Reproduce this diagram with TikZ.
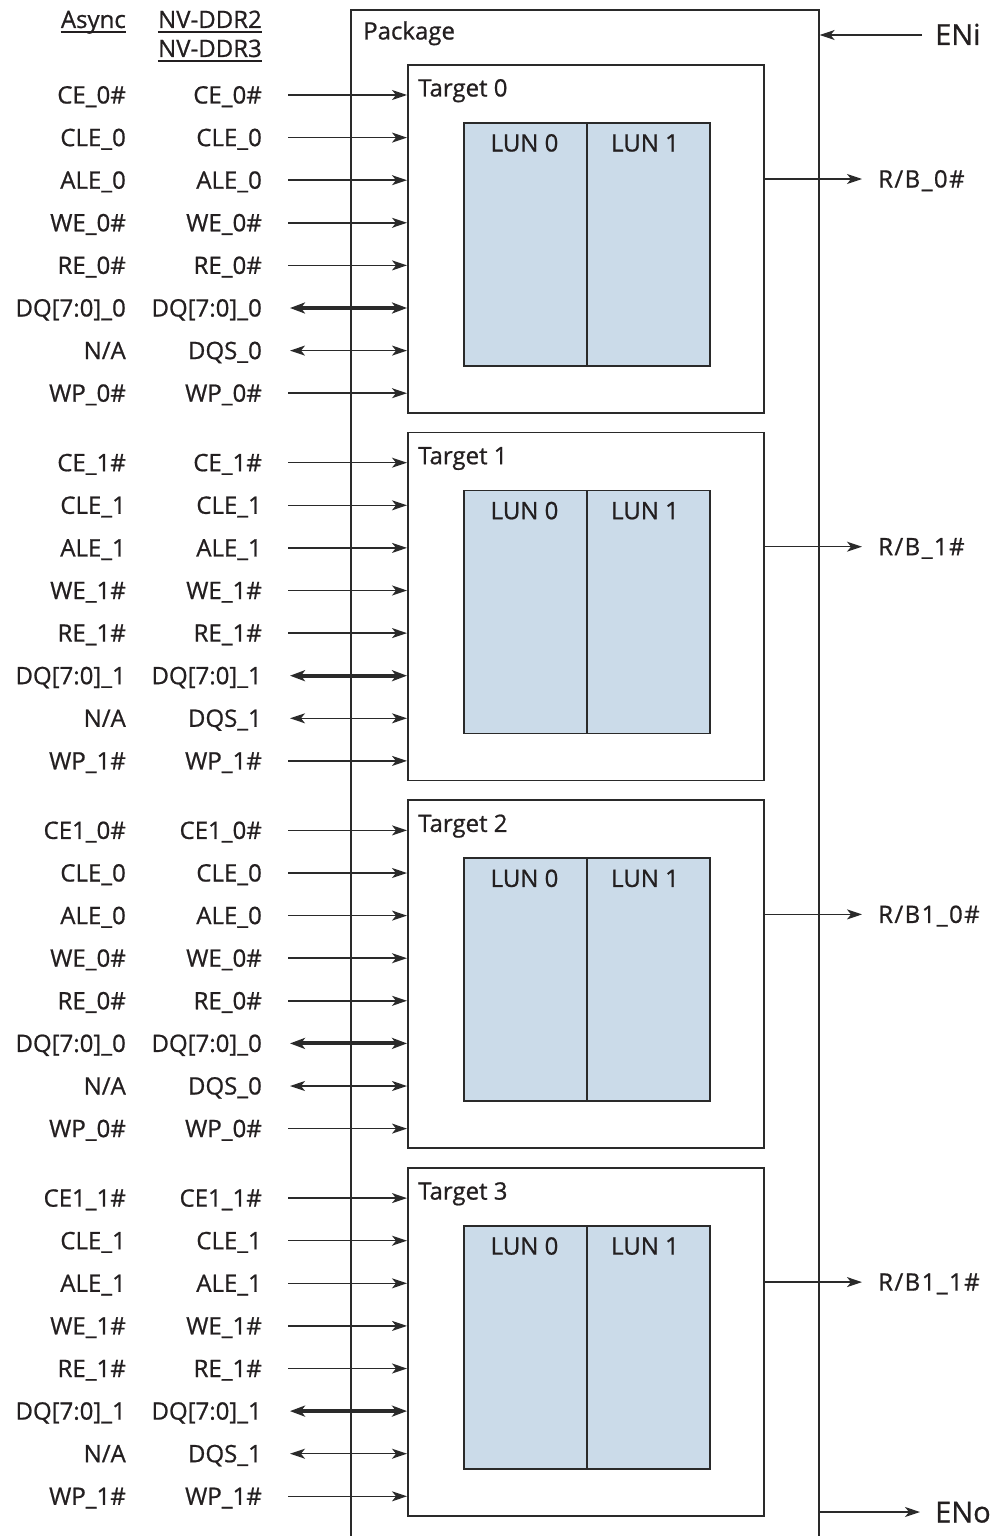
\documentclass[tikz,border=0pt]{standalone}
\usepackage{fontspec}
\setmainfont{Open Sans}
\newfontfamily\lblfont{Open Sans}[FakeBold=0.8]
\usetikzlibrary{arrows.meta,calc}
\definecolor{ink}{HTML}{231F20}
\definecolor{linec}{HTML}{2A2A2A}
\definecolor{lunfill}{HTML}{CBDBE9}
\tikzset{
  box/.style={draw=linec, line width=1.6pt, rectangle, inner sep=0pt, anchor=north west},
  lunbox/.style={box, fill=lunfill, minimum width=123pt, minimum height=243pt},
  sig/.style={draw=linec, line width=1.5pt, -{Stealth[length=15pt,width=10pt,inset=4pt]}},
  bidi/.style={draw=linec, line width=1.5pt, {Stealth[length=15pt,width=10pt,inset=4pt]}-{Stealth[length=15pt,width=10pt,inset=4pt]}},
  bus/.style={draw=linec, line width=4pt, {Stealth[length=15pt,width=11pt,inset=4pt]}-{Stealth[length=15pt,width=11pt,inset=4pt]}},
  lbl/.style={font=\lblfont\fontsize{24}{28}\selectfont, text=ink, inner sep=0pt},
  rblbl/.style={font=\lblfont\fontsize{24}{28}\selectfont\addfontfeature{LetterSpace=6}, text=ink, inner sep=0pt},
  biglbl/.style={font=\lblfont\fontsize{29}{34}\selectfont, text=ink, inner sep=0pt},
  uline/.style={draw=ink, line width=2pt},
}
\begin{document}
\begin{tikzpicture}[x=1pt,y=-1pt]
\useasboundingbox (0,0) rectangle (994,1536);
% package
\node[box, minimum width=468pt, minimum height=1600pt] (pkg) at (350,9) {};
\node[lbl, anchor=base west] (pkgl) at (363,39.5) {Package};
% headers
\node[lbl, anchor=base east] (ha) at (126,28) {Async};
\draw[uline] ([yshift=-4pt]ha.base west) -- ([yshift=-4pt]ha.base east);
\node[lbl, anchor=base east] (hb) at (262,28) {NV-DDR2};
\draw[uline] ([yshift=-4pt]hb.base west) -- ([yshift=-4pt]hb.base east);
\node[lbl, anchor=base east] (hc) at (262,57) {NV-DDR3};
\draw[uline] ([yshift=-4pt]hc.base west) -- ([yshift=-4pt]hc.base east);
% ENi / ENo
\node[biglbl, anchor=base west] (eni) at (935,45) {ENi};
\coordinate (enis) at (922,35);
\draw[sig] (enis) -- (enis -| pkg.east);
\node[biglbl, anchor=base west] (eno) at (935,1522.5) {ENo};
\coordinate (enoe) at (920,1512);
\draw[sig] (pkg.east |- enoe) -- (enoe);
% targets
\foreach \t in {0,1,2,3}{
  \pgfmathsetmacro\ty{64+367.7*\t}
  \ifcase\t \def\sfx{0}\def\cepre{CE}\def\rbn{R/B\_0\#}%
  \or \def\sfx{1}\def\cepre{CE}\def\rbn{R/B\_1\#}%
  \or \def\sfx{0}\def\cepre{CE1}\def\rbn{R/B1\_0\#}%
  \or \def\sfx{1}\def\cepre{CE1}\def\rbn{R/B1\_1\#}\fi
  \node[box, minimum width=356pt, minimum height=348pt] (T\t) at (407,\ty) {};
  \node[lbl, anchor=base west] (TL\t) at (418,\ty+32.5) {Target \t};
  \node[lunbox] (La\t) at (463,\ty+58) {};
  \node[lunbox] (Lb\t) at (586,\ty+58) {};
  \node[lbl, anchor=base] (LNa\t) at (524.5,\ty+87.5) {LUN 0};
  \node[lbl, anchor=base] (LNb\t) at (645,\ty+87.5) {LUN 1};
  % R/B
  \node[rblbl, anchor=base west] (RB\t) at (878,\ty+123.5) {\rbn};
  \coordinate (RBe\t) at (862,\ty+115);
  \draw[sig] (T\t.east |- RBe\t) -- (RBe\t);
  % signals
  \foreach \i in {0,...,7}{
    \pgfmathsetmacro\ry{\ty+31+42.6*\i}
    \node[lbl, anchor=base east] (A\t-\i) at (126,\ry+8.5) {\ifcase\i \cepre\_\sfx\#\or CLE\_\sfx\or ALE\_\sfx\or WE\_\sfx\#\or RE\_\sfx\#\or DQ[7:0]\_\sfx\or N/A\or WP\_\sfx\#\fi};
    \node[lbl, anchor=base east] (N\t-\i) at (262,\ry+8.5) {\ifcase\i \cepre\_\sfx\#\or CLE\_\sfx\or ALE\_\sfx\or WE\_\sfx\#\or RE\_\sfx\#\or DQ[7:0]\_\sfx\or DQS\_\sfx\or WP\_\sfx\#\fi};
    \ifnum\i=5
      \coordinate (S\t-\i) at (290,\ry);
      \draw[bus] (S\t-\i) -- (S\t-\i -| T\t.west);
    \else\ifnum\i=6
      \coordinate (S\t-\i) at (290,\ry);
      \draw[bidi] (S\t-\i) -- (S\t-\i -| T\t.west);
    \else
      \coordinate (S\t-\i) at (288,\ry);
      \draw[sig] (S\t-\i) -- (S\t-\i -| T\t.west);
    \fi\fi
  }
}
\end{tikzpicture}
\end{document}
